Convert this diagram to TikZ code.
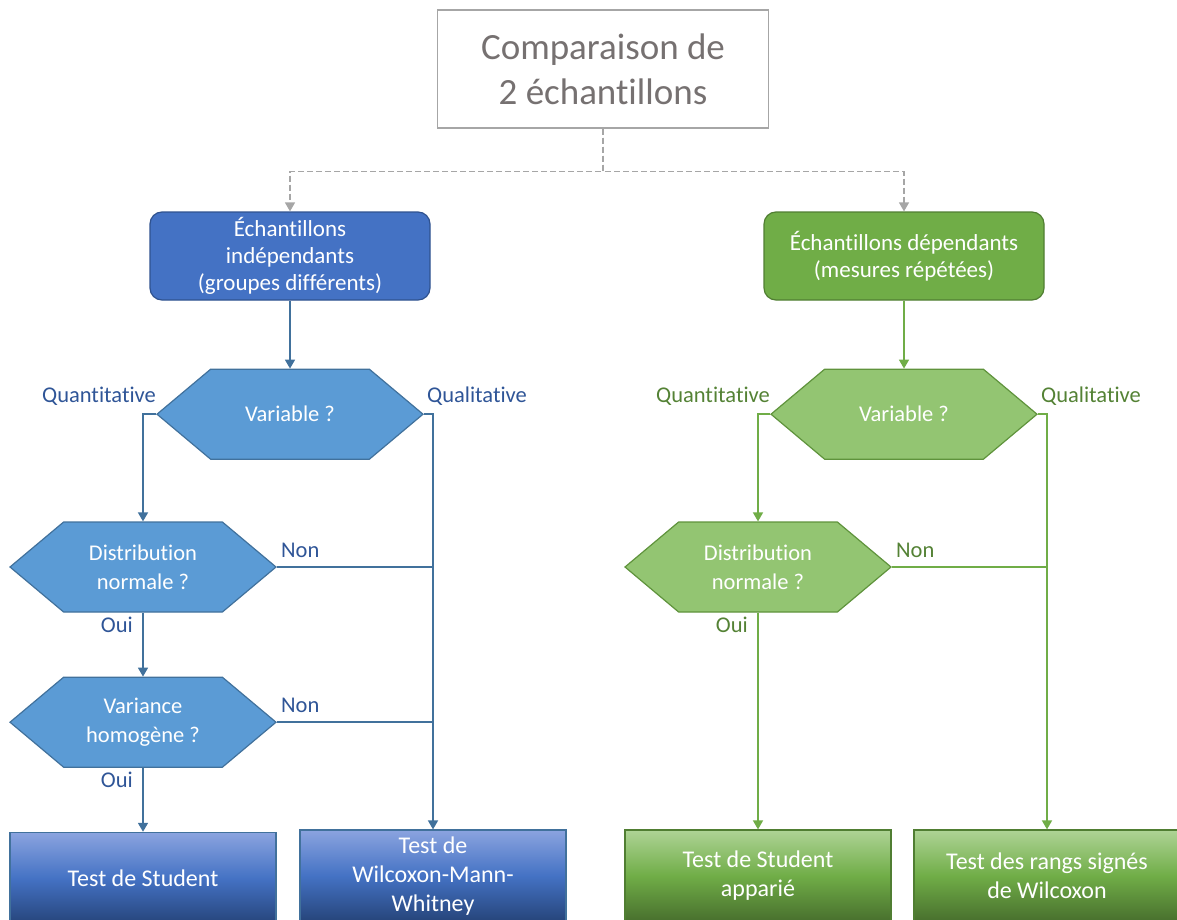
\documentclass[tikz,border=0pt]{standalone}
\usepackage{fontspec}
\setmainfont{Carlito}[Ligatures=NoCommon]
\usetikzlibrary{positioning,shapes.symbols,arrows.meta}
\definecolor{titlegray}{HTML}{A6A6A6}
\definecolor{textgray}{HTML}{767171}
\definecolor{grpblue}{HTML}{4472C4}
\definecolor{grpblueline}{HTML}{2F528F}
\definecolor{hexblue}{HTML}{5B9BD5}
\definecolor{lineblue}{HTML}{41719C}
\definecolor{lblblue}{HTML}{2F5597}
\definecolor{grpgreen}{HTML}{70AD47}
\definecolor{grpgreenline}{HTML}{507E32}
\definecolor{hexgreen}{HTML}{93C572}
\definecolor{linegreen}{HTML}{70AD47}
\definecolor{lblgreen}{HTML}{548235}

\begin{document}
\begin{tikzpicture}[x=1pt,y=-1pt,>={Triangle[width=10pt,length=9pt]},
    title node/.style={draw=titlegray,line width=1.5pt,text=textgray,minimum width=331pt,minimum height=118pt,align=center,font=\fontsize{37}{45}\selectfont},
    group node/.style={rounded corners=12pt,line width=1.2pt,text=white,minimum width=280pt,minimum height=88pt,align=center,font=\fontsize{23}{27}\selectfont},
    hex node/.style={signal,signal to=east and west,signal pointer angle=80,minimum width=266pt,minimum height=90pt,inner sep=0pt,line width=1.2pt,text=white,align=center,font=\fontsize{22.5}{29}\selectfont},
    test node/.style={minimum width=266pt,minimum height=92pt,line width=1.2pt,text=white,align=center,font=\fontsize{24}{29}\selectfont},
    blue hex/.style={hex node,draw=lineblue,fill=hexblue},
    green hex/.style={hex node,draw=linegreen!85!black,fill=hexgreen},
    blue test/.style={test node,draw=lineblue,top color=blue!10!grpblue!60!white,bottom color=lblblue!80!black,middle color=grpblue},
    green test/.style={test node,draw=grpgreenline,top color=hexgreen!75!white,bottom color=lblgreen!85!black,middle color=grpgreen},
    lbl/.style={font=\fontsize{22.5}{26}\selectfont,inner sep=0pt},
    bline/.style={draw=lineblue,line width=1.6pt},
    gline/.style={draw=linegreen,line width=1.6pt},
    dashline/.style={draw=titlegray,line width=1.4pt,dash pattern=on 6pt off 3pt}]
  \useasboundingbox (0,0) rectangle (1177,920);
  \clip (0,0) rectangle (1177,920);

  \node[title node] (title) at (603,69) {Comparaison de\\2 échantillons};

  \node[group node,draw=grpblueline,fill=grpblue] (indep) at (290,256) {Échantillons\\indépendants\\(groupes différents)};
  \node[group node,draw=grpgreenline,fill=grpgreen] (dep) at (904,256) {Échantillons dépendants\\(mesures répétées)};

  % cote independants
  \node[blue hex] (varA) [below=68pt of indep] {Variable ?};
  \node[blue hex] (distA) at (143,567) {Distribution\\normale ?};
  \node[blue hex] (homA) [below=64pt of distA] {Variance\\homogène ?};
  \node[blue test] (student) [below=64pt of homA] {Test de Student};
  \node[blue test] (wmw) at (433,876) {Test de\\Wilcoxon-Mann-\\Whitney};

  % cote dependants
  \node[green hex] (varB) [below=68pt of dep] {Variable ?};
  \node[green hex] (distB) at (758,567) {Distribution\\normale ?};
  \node[green test] (apparie) at (758,876) {Test de Student\\apparié};
  \node[green test] (rangs) at (1047,876) {Test des rangs signés\\de Wilcoxon};

  \draw[dashline,->] (title.south) -- ++(0,43) -| (indep.north);
  \draw[dashline,->] (title.south) -- ++(0,43) -| (dep.north);

  \draw[bline,->] (indep.south) -- (varA.north);
  \draw[bline,->] (varA.west) -| (distA.north);
  \draw[bline,->] (varA.east) -| (wmw.north);
  \draw[bline,->] (distA.south) -- (homA.north);
  \draw[bline,->] (homA.south) -- (student.north);
  \draw[bline] (distA.east) -- (distA.east -| wmw.north);
  \draw[bline] (homA.east) -- (homA.east -| wmw.north);

  \draw[gline,->] (dep.south) -- (varB.north);
  \draw[gline,->] (varB.west) -| (distB.north);
  \draw[gline,->] (varB.east) -| (rangs.north);
  \draw[gline,->] (distB.south) -- (apparie.north);
  \draw[gline] (distB.east) -- (distB.east -| rangs.north);

  \node[lbl,text=lblblue,anchor=south east] (qtA) at ([yshift=9pt]varA.west) {Quantitative};
  \node[lbl,text=lblblue,anchor=south west] (qlA) at ([xshift=3pt,yshift=9pt]varA.east) {Qualitative};
  \node[lbl,text=lblblue,anchor=south west] (nonA) at ([xshift=4pt,yshift=9pt]distA.east) {Non};
  \node[lbl,text=lblblue,anchor=south west] (nonA2) at ([xshift=4pt,yshift=9pt]homA.east) {Non};
  \node[lbl,text=lblblue,anchor=north east] (ouiA) at ([xshift=-10pt,yshift=-4pt]distA.south) {Oui};
  \node[lbl,text=lblblue,anchor=north east] (ouiA2) at ([xshift=-10pt,yshift=-4pt]homA.south) {Oui};

  \node[lbl,text=lblgreen,anchor=south east] (qtB) at ([yshift=9pt]varB.west) {Quantitative};
  \node[lbl,text=lblgreen,anchor=south west] (qlB) at ([xshift=3pt,yshift=9pt]varB.east) {Qualitative};
  \node[lbl,text=lblgreen,anchor=south west] (nonB) at ([xshift=4pt,yshift=9pt]distB.east) {Non};
  \node[lbl,text=lblgreen,anchor=north east] (ouiB) at ([xshift=-10pt,yshift=-4pt]distB.south) {Oui};
\end{tikzpicture}
\end{document}
